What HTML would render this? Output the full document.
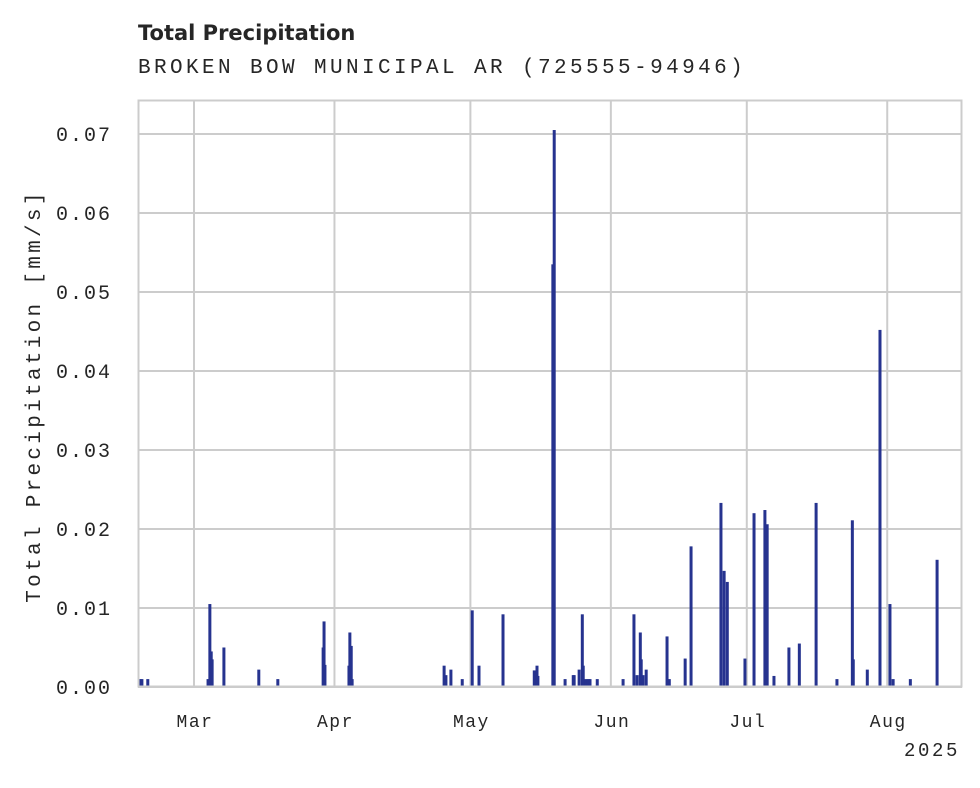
<!DOCTYPE html>
<html><head><meta charset="utf-8"><style>
body{margin:0;background:#fff;width:980px;height:783px;overflow:hidden}
svg text{fill:#262626}
</style></head><body>
<svg width="980" height="783" id="chart">
<text x="138" y="40" font-family="DejaVu Sans, sans-serif" font-weight="bold" font-size="21">Total Precipitation</text>
<text x="138" y="73" font-family="Liberation Mono, monospace" font-size="21" letter-spacing="3.4">BROKEN BOW MUNICIPAL AR (725555-94946)</text>
<g id="grid"></g>
<g id="bars"></g>
<rect x="138.5" y="100.5" width="823" height="586" fill="none" stroke="#ccc" stroke-width="2"/>
<g id="axes"></g>
<text transform="translate(40,396) rotate(-90)" text-anchor="middle" font-family="Liberation Mono, monospace" font-size="21" letter-spacing="3.3">Total Precipitation [mm/s]</text>
<text x="960" y="756" text-anchor="end" font-family="Liberation Mono, monospace" font-size="19" letter-spacing="2.6">2025</text>
</svg>
<script>
// days relative to Mar 1, 2025
const days=[-11.9,-11.5,-10.2,3.1,3.5,3.8,4.0,6.6,14.3,18.5,28.5,28.7,28.9,34.2,34.4,34.7,34.9,55.2,55.6,56.7,59.2,61.4,62.9,68.2,75.1,75.7,75.9,79.2,79.5,81.9,83.7,83.9,85.0,85.7,85.9,86.5,87.0,87.4,89.0,94.7,97.1,97.8,98.5,98.7,99.1,99.8,104.4,104.9,108.4,109.7,116.3,117.0,117.7,121.6,123.6,126.0,126.5,128.0,131.3,133.6,137.3,141.9,145.3,145.5,148.6,151.4,153.6,154.3,158.1,164.0];
const values=[0.001,0.001,0.001,0.001,0.0105,0.0045,0.0035,0.005,0.0022,0.001,0.005,0.0083,0.0028,0.0027,0.0069,0.0052,0.001,0.0027,0.0015,0.0022,0.001,0.0097,0.0027,0.0092,0.0021,0.0027,0.0014,0.0535,0.0705,0.001,0.0015,0.0015,0.0022,0.0092,0.0027,0.001,0.001,0.001,0.001,0.001,0.0092,0.0015,0.0069,0.0035,0.0015,0.0022,0.0064,0.001,0.0036,0.0178,0.0233,0.0147,0.0133,0.0036,0.022,0.0224,0.0206,0.0014,0.005,0.0055,0.0233,0.001,0.0211,0.0035,0.0022,0.0452,0.0105,0.001,0.001,0.0161];
const yTicks=[0,0.01,0.02,0.03,0.04,0.05,0.06,0.07];
const monthLabels=["Mar","Apr","May","Jun","Jul","Aug"];
const monthDays=[0,31,61,92,122,153];
const X0=138,X1=962,Y0=687,Y1=100,D0=-12.36,D1=169.5,V1=0.0743;
const xs=d=>X0+(d-D0)/(D1-D0)*(X1-X0);
const ys=v=>Y0-v/V1*(Y0-Y1);
const NS="http://www.w3.org/2000/svg";
const grid=document.getElementById('grid'),axes=document.getElementById('axes'),bars=document.getElementById('bars');
yTicks.forEach((t,i)=>{
 const l=document.createElementNS(NS,'line');
 
 
 l.setAttribute('x1',X0);l.setAttribute('x2',X1);l.setAttribute('y1',ys(t));l.setAttribute('y2',ys(t));
 l.setAttribute('stroke','#ccc');l.setAttribute('stroke-width','2');grid.appendChild(l);
 const tx=document.createElementNS(NS,'text');
 
 
 tx.setAttribute('x',112);tx.setAttribute('y',ys(t)+7);tx.setAttribute('text-anchor','end');
 tx.setAttribute('font-family','Liberation Mono, monospace');tx.setAttribute('font-size','20');
 tx.setAttribute('letter-spacing','2');
 tx.textContent=t.toFixed(2);axes.appendChild(tx);
});
monthDays.forEach((d,i)=>{
 const l=document.createElementNS(NS,'line');
 
 
 l.setAttribute('x1',xs(d));l.setAttribute('x2',xs(d));l.setAttribute('y1',Y1);l.setAttribute('y2',Y0);
 l.setAttribute('stroke','#ccc');l.setAttribute('stroke-width','2');grid.appendChild(l);
 const tx=document.createElementNS(NS,'text');
 
 
 tx.setAttribute('x',xs(d)+1);tx.setAttribute('y',727);tx.setAttribute('text-anchor','middle');
 tx.setAttribute('font-family','Liberation Mono, monospace');tx.setAttribute('font-size','18');
 tx.setAttribute('letter-spacing','1.5');
 tx.textContent=monthLabels[i];axes.appendChild(tx);
});
days.forEach((d,i)=>{
 const r=document.createElementNS(NS,'rect');
 
 
 const y=ys(values[i]);
 r.setAttribute('x',xs(d)-1.5);r.setAttribute('width',3);
 r.setAttribute('y',y);r.setAttribute('height',Y0-y);
 r.setAttribute('fill','#26338f');bars.appendChild(r);
});
</script>
</body></html>
